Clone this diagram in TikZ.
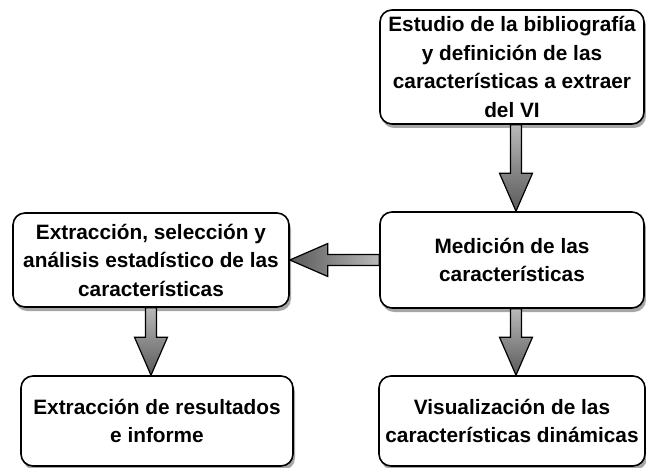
\documentclass[tikz,border=0pt]{standalone}
\usepackage{fontspec}
\setmainfont{Liberation Sans}
\usepackage{tikz}
\usetikzlibrary{calc}
\usetikzlibrary{shadows}

\newcommand{\fatarrow}[3][]{%
  \coordinate (h) at ($(#3)!38pt!(#2)$);
  \draw[line width=1.2pt,line join=miter,#1]
    ($(#2)!5.5pt!90:(#3)$) -- ($(h)!5.5pt!90:(#3)$) -- ($(h)!16.5pt!90:(#3)$) -- (#3)
    -- ($(h)!16.5pt!-90:(#3)$) -- ($(h)!5.5pt!-90:(#3)$) -- ($(#2)!5.5pt!-90:(#3)$) -- cycle;
}

\begin{document}
\begin{tikzpicture}[x=1pt,y=-1pt,every node/.style={draw=black,line width=1.6pt,rounded corners=12pt,fill=white,align=center,inner sep=0pt,font=\bfseries\fontsize{20.8}{28.5}\selectfont,drop shadow={shadow xshift=2pt,shadow yshift=-4pt,fill=black,opacity=0.35}}]
    \useasboundingbox (0,0) rectangle (646,468);

    \node (study)[minimum width=264pt,minimum height=114pt] at (512,67) {Estudio de la bibliografía\\y definición de las\\características a extraer\\del VI};
    \node (measure)[minimum width=264pt,minimum height=96pt] at (512,260) {Medición de las\\características};
    \node (select)[minimum width=276pt,minimum height=94pt] at (151,260) {Extracción, selección y\\análisis estadístico de las\\características};
    \node (results)[minimum width=272pt,minimum height=90pt] at (157,421) {Extracción de resultados\\e informe};
    \node (visual)[minimum width=266pt,minimum height=90pt] at (512,421) {Visualización de las\\características dinámicas};

    \fatarrow[top color=gray!55,bottom color=black!65]{[xshift=4pt]study.south}{[xshift=4pt]measure.north}
    \fatarrow[right color=gray!55,left color=black!65]{measure.west}{select.east}
    \fatarrow[top color=gray!55,bottom color=black!65]{select.south}{select.south |- results.north}
    \fatarrow[top color=gray!55,bottom color=black!65]{[xshift=4pt]measure.south}{[xshift=4pt]visual.north}
\end{tikzpicture}
\end{document}
